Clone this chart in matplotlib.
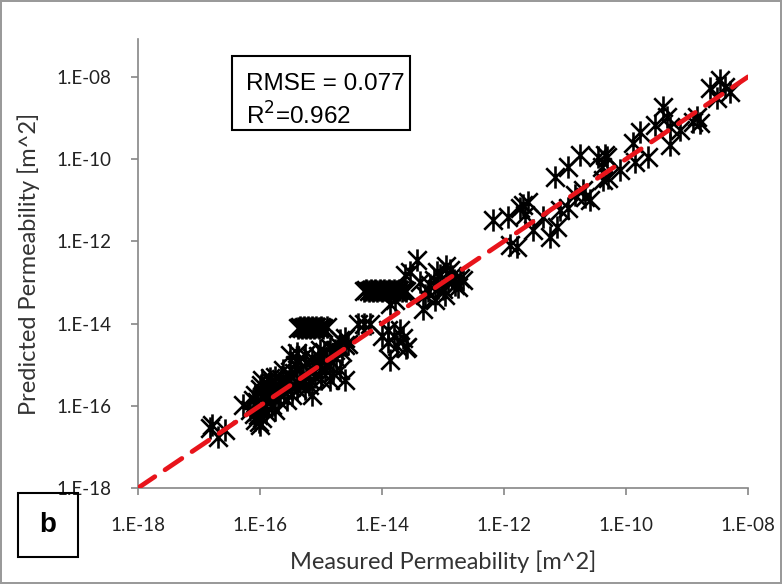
import numpy as np
import matplotlib
matplotlib.use("Agg")
import matplotlib.pyplot as plt
from matplotlib.path import Path
from matplotlib.patches import Rectangle

# log10 of measured / predicted permeability [m^2]
log_measured = [
    -16.82, -16.57, -16.69, -16.79,
    -16.28, -16.16, -16.08, -16.03, -16.00, -15.97, -16.08, -15.92, -16.00, -15.87,
    -15.97, -15.84, -15.75, -15.67, -15.80, -15.59, -15.51, -15.62, -15.43, -15.34,
    -15.26, -15.18, -15.48, -15.38, -15.26, -15.10, -15.02, -14.93, -14.85, -14.77,
    -14.69, -14.61, -14.85, -14.61, -14.69, -15.15, -15.51, -15.39, -15.84, -15.95,
    -15.75,
    -16.05, -15.95, -15.90, -15.85, -15.80, -15.75, -15.70, -15.65, -15.60, -15.55,
    -15.50, -15.45, -15.40, -15.35, -15.30, -15.25, -15.20, -15.15, -15.10, -15.05,
    -15.00, -14.95, -14.90, -14.85, -14.80, -14.75, -14.70, -14.65, -16.10, -16.02,
    -15.90, -15.70, -15.55, -15.40, -15.20, -15.00, -14.60, -14.55, -16.12, -15.98,
    -15.37, -15.34, -15.31, -15.28, -15.24, -15.21, -15.18, -15.15, -15.11, -15.08,
    -15.04, -15.00, -14.96, -14.90,
    -14.30, -14.27, -14.22, -14.18, -14.15, -14.12, -14.08, -14.04, -14.00, -13.96,
    -13.92, -13.88, -13.85, -13.80, -13.75, -13.72, -13.68, -13.64, -13.60,
    -14.40, -14.30, -14.20,
    -14.00, -13.90, -13.80, -13.75, -13.65, -13.60, -13.90, -13.70, -13.87, -13.59,
    -13.43, -13.54, -13.21, -13.05, -12.89, -12.80, -12.97, -13.13, -12.72, -13.30,
    -12.92, -13.08, -13.33, -13.87, -12.67, -13.62, -13.79, -13.38,
    -13.15, -13.00, -12.85, -12.75, -13.10, -12.95, -12.82, -13.25,
    -12.18, -11.93, -11.69, -11.61, -11.74, -11.52, -11.25, -11.79, -11.36, -11.08,
    -10.95, -11.13, -11.16, -10.95, -10.75, -10.67, -10.70, -10.46, -10.34, -10.38,
    -10.30, -10.39, -11.66, -11.90, -10.84, -10.59,
    -10.31, -9.77, -9.89, -9.85, -9.64, -9.39, -9.33, -9.28, -9.11, -9.28,
    -8.84, -8.79, -8.90, -8.62, -8.46, -8.38, -8.30, -8.51, -10.10, -9.52,
]
log_predicted = [
    -16.54, -16.58, -16.76, -16.47,
    -15.98, -16.10, -16.35, -16.22, -16.47, -16.30, -15.74, -15.86, -15.60, -15.50,
    -15.37, -15.32, -15.60, -15.74, -15.98, -15.50, -15.25, -15.13, -15.00, -15.37,
    -15.60, -15.37, -15.74, -14.89, -14.76, -15.00, -14.64, -15.13, -14.89, -14.64,
    -14.40, -14.52, -15.37, -15.37, -15.13, -15.74, -14.76, -14.71, -15.74, -16.05,
    -16.10,
    -15.90, -15.75, -16.00, -15.65, -15.45, -15.30, -15.50, -15.35, -15.65, -15.40,
    -15.55, -15.20, -15.45, -15.10, -15.25, -14.95, -15.15, -14.85, -15.30, -14.80,
    -15.00, -14.70, -14.95, -14.60, -15.20, -14.85, -14.55, -14.70, -16.20, -16.40,
    -16.15, -15.85, -15.85, -15.60, -15.50, -15.35, -14.35, -14.50, -15.85, -15.50,
    -14.10, -14.08, -14.10, -14.08, -14.10, -14.08, -14.10, -14.08, -14.10, -14.08,
    -14.10, -14.08, -14.10, -14.08,
    -13.20, -13.18, -13.20, -13.18, -13.20, -13.18, -13.20, -13.18, -13.20, -13.18,
    -13.20, -13.18, -13.20, -13.18, -13.20, -13.18, -13.20, -13.18, -13.20,
    -14.00, -14.00, -14.00,
    -14.30, -14.45, -14.30, -14.55, -14.35, -14.60, -14.15, -14.15, -14.88, -14.57,
    -12.45, -12.74, -13.06, -12.82, -12.70, -13.06, -13.30, -13.43, -12.89, -13.30,
    -12.99, -13.13, -13.65, -13.53, -12.94, -12.82, -13.43, -13.00,
    -12.95, -13.15, -12.85, -13.10, -12.75, -12.60, -12.95, -13.20,
    -11.48, -11.41, -11.11, -11.04, -11.19, -11.72, -11.89, -12.14, -11.41, -11.24,
    -11.19, -11.65, -10.43, -10.19, -9.90, -10.92, -10.75, -9.95, -9.90, -10.51,
    -10.46, -10.19, -11.36, -12.09, -10.87, -10.99,
    -9.95, -9.34, -9.61, -10.07, -9.95, -8.73, -8.97, -9.22, -9.29, -9.65,
    -8.97, -9.12, -9.10, -8.27, -8.07, -8.24, -8.36, -8.51, -10.26, -9.17,
]
line_ends = [1e-18, 1e-8]
x_ticks = [1e-18, 1e-16, 1e-14, 1e-12, 1e-10, 1e-8]
tick_labels = ["1.E-18", "1.E-16", "1.E-14", "1.E-12", "1.E-10", "1.E-08"]

measured = 10.0 ** np.array(log_measured)
predicted = 10.0 ** np.array(log_predicted)

# excel style star marker: X plus a vertical bar
star = Path(
    [(-1, -1), (1, 1), (-1, 1), (1, -1), (0, -1.2), (0, 1.2)],
    [Path.MOVETO, Path.LINETO, Path.MOVETO, Path.LINETO, Path.MOVETO, Path.LINETO],
)

W, H = 782, 584
fig = plt.figure(figsize=(W / 100, H / 100), dpi=100)
fig.patch.set_edgecolor("#9a9a9a")
fig.patch.set_linewidth(1.5)
ax = fig.add_axes([138 / W, 1 - 488 / H, (748 - 138) / W, (488 - 39) / H])

ax.plot(measured, predicted, linestyle="none", marker=star, ms=16,
        mec="black", mfc="none", mew=1.9, zorder=2)
ax.plot(line_ends, line_ends, color="#e8141b", lw=3.4,
        dashes=(4.3, 2.6), zorder=3, dash_capstyle="round")

ax.set_xscale("log")
ax.set_yscale("log")
ax.set_xlim(1e-18, 1e-8)
ax.set_ylim(1e-18, 10 ** -7.08)
ax.set_xticks(x_ticks)
ax.set_xticklabels(tick_labels)
ax.set_yticks(x_ticks)
ax.set_yticklabels(tick_labels)
ax.minorticks_off()

for side in ["top", "right"]:
    ax.spines[side].set_visible(False)
for side in ["left", "bottom"]:
    ax.spines[side].set_color("#868686")
    ax.spines[side].set_linewidth(1.2)
ax.tick_params(direction="out", length=5, width=1.2, color="#868686",
               labelsize=13.5, labelcolor="#222222")
ax.tick_params(axis="x", pad=16)
ax.tick_params(axis="y", pad=14)
for lab in ax.get_xticklabels() + ax.get_yticklabels():
    lab.set_family("Lato")
ax.set_xlabel("Measured Permeability [m^2]", fontsize=17, family="Lato",
              color="#333333", labelpad=12)
ax.set_ylabel("Predicted Permeability [m^2]", fontsize=17, family="Lato",
              color="#333333", labelpad=12)

# stats box
fig.add_artist(Rectangle((232 / W, 1 - 130 / H), 178 / W, 74 / H,
                         transform=fig.transFigure, fill=False,
                         edgecolor="black", lw=1.5))
fig.text(246 / W, 1 - 84 / H, "RMSE = 0.077", fontsize=17.5,
         family="Liberation Sans", va="center")
fig.text(246 / W, 1 - 116 / H, "R$^2$=0.962", fontsize=17.5,
         family="Liberation Sans", va="center")

# panel letter
fig.add_artist(Rectangle((18 / W, 1 - 557 / H), 60 / W, 64 / H,
                         transform=fig.transFigure, fill=False,
                         edgecolor="black", lw=1.5))
fig.text(48 / W, 1 - 525 / H, "b", fontsize=20, fontweight="bold",
         family="Liberation Sans", ha="center", va="center")

fig.savefig("out.png", dpi=100)
